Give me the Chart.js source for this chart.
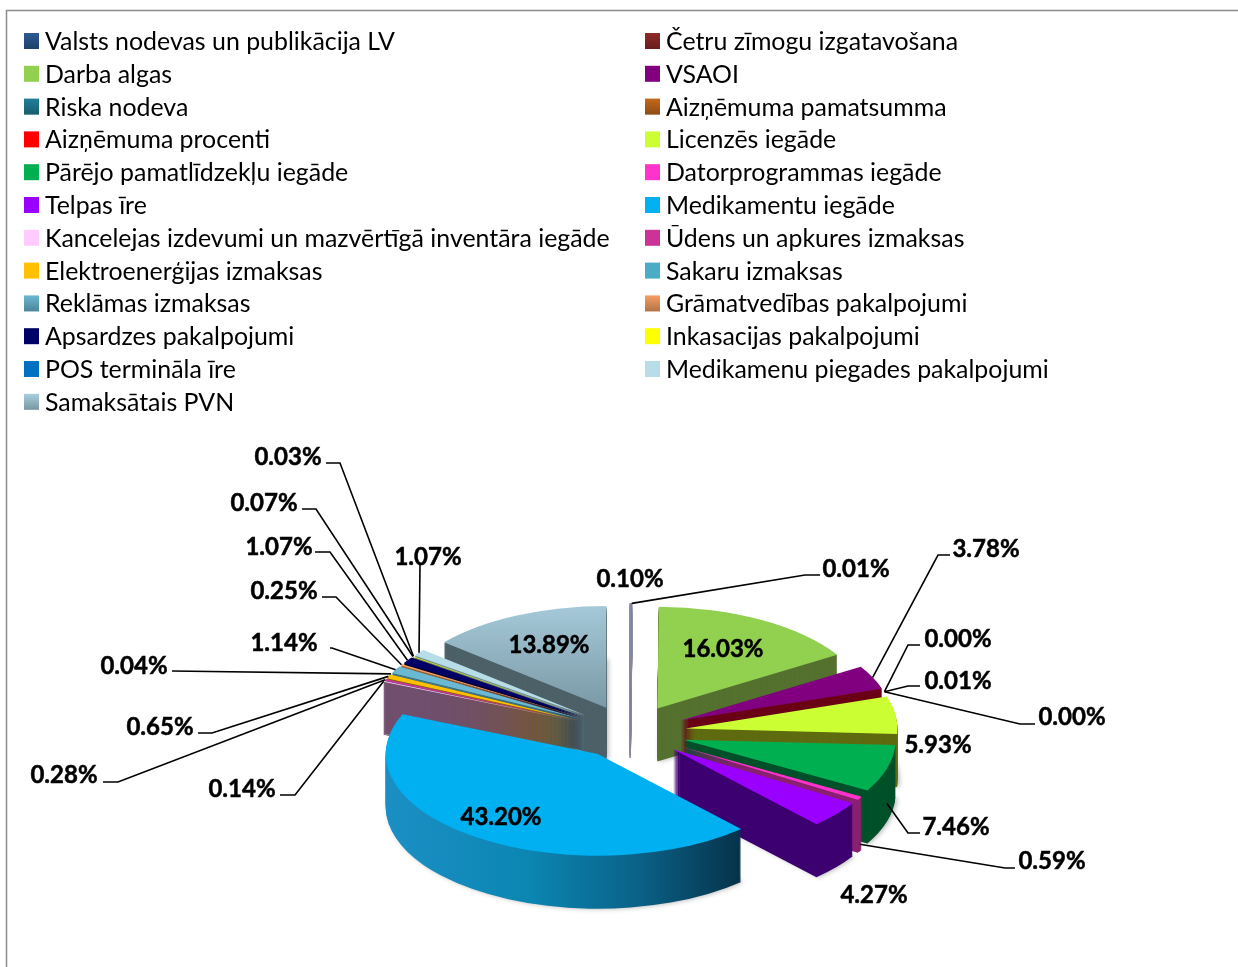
<!DOCTYPE html>
<html>
<head>
<meta charset="utf-8">
<script src="https://cdn.jsdelivr.net/npm/chart.js@4"></script>
<style>
  html, body { margin: 0; padding: 0; background: #fff; overflow: hidden; }
  canvas { display: block; }
</style>
</head>
<body>
<canvas id="pieChart" width="1238" height="967"></canvas>
<script>
const categories = [
  'Valsts nodevas un publikācija LV', 'Četru zīmogu izgatavošana',
  'Darba algas', 'VSAOI',
  'Riska nodeva', 'Aizņēmuma pamatsumma',
  'Aizņēmuma procenti', 'Licenzēs iegāde',
  'Pārējo pamatlīdzekļu iegāde', 'Datorprogrammas iegāde',
  'Telpas īre', 'Medikamentu iegāde',
  'Kancelejas izdevumi un mazvērtīgā inventāra iegāde', 'Ūdens un apkures izmaksas',
  'Elektroenerģijas izmaksas', 'Sakaru izmaksas',
  'Reklāmas izmaksas', 'Grāmatvedības pakalpojumi',
  'Apsardzes pakalpojumi', 'Inkasacijas pakalpojumi',
  'POS termināla īre', 'Medikamenu piegades pakalpojumi',
  'Samaksātais PVN'
];
const shares = [0.10, 0.01, 16.03, 3.78, 0.00, 0.01, 0.00, 5.93, 7.46, 0.59, 4.27, 43.20,
  0.14, 0.28, 0.65, 0.04, 1.14, 0.25, 1.07, 0.07, 0.03, 1.07, 13.89];

const topColors = ['#2c5a94', '#8f2a28', '#92d050', '#800080', '#217f99', '#c4691c', '#ff0000', '#ccff33',
  '#00b050', '#ff33cc', '#9900ff', '#00b0f0', '#ffccff', '#cc3399', '#ffc000', '#4bacc6',
  '#6bb8d2', '#f79f63', '#000066', '#ffff00', '#0070c0', '#b7dde8', '#a9cfe0'];
const wallColors = ['#8a8ca4', '#8a8ca4', '#55712f', '#6a0016', '#155060', '#7a4010', '#7a0000', '#5f6b10',
  '#00502a', '#8b2070', '#3d0070', '#0b6d96', '#70506e', '#70506e', '#806000', '#2a6a7a',
  '#3a6a7a', '#905f30', '#000033', '#707000', '#004070', '#6f8c94', '#4d6168'];
const shadedSwatches = [0, 1, 4, 5, 16, 17, 22];

// where the percentages sit, null elbow = no leader line
const labelX = [630, 856, 723, 986, 958, 958, 1072, 938, 956, 1052, 874, 501, 242, 64, 160, 134, 284, 284, 279, 264, 288, 428, 549];
const labelY = [579, 569, 649, 549, 639, 681, 717, 745, 827, 861, 895, 817, 789, 775, 727, 666, 643, 591, 547, 503, 457, 557, 645];
const elbowX = [null, 805, null, 938, 908, 908, 1020, null, 908, 1005, null, null, 295, 118, 212, 172, 332, 336, 330, 316, 340, 420, null];
const elbowY = [null, 575, null, 555, 645, 686, 724, null, 833, 868, null, null, 795, 782, 733, 671, 648, 597, 552, 509, 463, 565, null];
const lineEndX = [null, 820, null, 950, 920, 920, 1035, null, 920, 1015, null, null, 280, 103, 198, 172, 330, 322, 315, 302, 326, 420, null];
// leaders of the front slices start down on the wall, not on the top face
const leaderDrop = [0, 0, 0, 0, 0, 0, 0, 0, 35, 46, 0, 0, 0, 0, 0, 0, 0, 0, 0, 0, 0, 0, 0];

const SQUASH = 0.48;
const DEPTH = 53;
const LABEL_FONT = 'bold 24px Lato';
const LEGEND_FONT = '24.9px Lato';

function slicePath(ctx, arc) {
  const p = arc.getProps(['x', 'y', 'startAngle', 'endAngle', 'outerRadius'], true);
  const mid = (p.startAngle + p.endAngle) / 2;
  const ox = Math.cos(mid) * arc.options.offset;
  const oy = Math.sin(mid) * arc.options.offset;
  ctx.beginPath();
  ctx.moveTo(p.x + ox, p.y + oy);
  ctx.arc(p.x + ox, p.y + oy, p.outerRadius, p.startAngle, p.endAngle);
  ctx.closePath();
}

function rimPoint(arc) {
  const p = arc.getProps(['x', 'y', 'startAngle', 'endAngle', 'outerRadius'], true);
  const mid = (p.startAngle + p.endAngle) / 2;
  const r = p.outerRadius + arc.options.offset;
  return { x: p.x + Math.cos(mid) * r, y: p.y + Math.sin(mid) * r * SQUASH };
}

const framePlugin = {
  id: 'frame',
  beforeDraw(chart) {
    const ctx = chart.ctx;
    ctx.save();
    ctx.fillStyle = '#fff';
    ctx.fillRect(0, 0, chart.width, chart.height);
    ctx.strokeStyle = '#8c8c8c';
    ctx.lineWidth = 1.5;
    ctx.beginPath();
    ctx.moveTo(6.5, chart.height);
    ctx.lineTo(6.5, 10.5);
    ctx.lineTo(chart.width, 10.5);
    ctx.stroke();
    ctx.restore();
  }
};

// tilted pie: every slice is a squashed stack, back slices first
const tiltPlugin = {
  id: 'tilt',
  beforeDatasetDraw(chart, args) {
    const ctx = chart.ctx;
    const arcs = args.meta.data.map((arc, i) => ({ arc, i }));
    arcs.sort((a, b) => {
      const ma = (a.arc.startAngle + a.arc.endAngle) / 2;
      const mb = (b.arc.startAngle + b.arc.endAngle) / 2;
      return Math.sin(ma) - Math.sin(mb);
    });
    const cy = arcs[0].arc.y;
    arcs.forEach(({ arc, i }) => {
      let wall = wallColors[i];
      let top = topColors[i];
      if (i === 11) {
        wall = ctx.createLinearGradient(385, 0, 745, 0);
        wall.addColorStop(0, '#1b8fc4');
        wall.addColorStop(0.4, '#0b86b2');
        wall.addColorStop(0.7, '#0a6288');
        wall.addColorStop(1, '#063048');
      }
      if (i === 22) {
        top = ctx.createLinearGradient(0, cy - 320, 0, cy - 60);
        top.addColorStop(0, '#b0d6e6');
        top.addColorStop(1, '#7d9ba8');
      }
      for (let k = DEPTH; k >= 0; k--) {
        ctx.save();
        // soft shadow only under the big slices, the tiny ones just smear
        if (k === DEPTH && arc.endAngle - arc.startAngle > 0.2) {
          ctx.shadowColor = 'rgba(0,0,0,0.3)';
          ctx.shadowBlur = 5;
          ctx.shadowOffsetX = 2;
        }
        ctx.translate(0, cy + k);
        ctx.scale(1, SQUASH);
        ctx.translate(0, -cy);
        // the thin first slice reads as a grey sliver all the way up
        ctx.fillStyle = (k === 0 && i !== 0) ? top : wall;
        slicePath(ctx, arc);
        ctx.fill();
        if (i === 0) {
          ctx.strokeStyle = wall;
          ctx.lineWidth = 1.5;
          ctx.stroke();
        }
        ctx.restore();
      }
    });
    return false;
  },
  afterDatasetsDraw(chart) {
    const ctx = chart.ctx;
    const arcs = chart.getDatasetMeta(0).data;
    ctx.save();
    ctx.strokeStyle = '#000';
    ctx.lineWidth = 1.6;
    arcs.forEach((arc, i) => {
      if (elbowX[i] === null) return;
      const from = rimPoint(arc);
      ctx.beginPath();
      ctx.moveTo(from.x, from.y + leaderDrop[i]);
      ctx.lineTo(elbowX[i], elbowY[i]);
      ctx.lineTo(lineEndX[i], elbowY[i]);
      ctx.stroke();
    });
    ctx.font = LABEL_FONT;
    ctx.fillStyle = '#000';
    ctx.textAlign = 'center';
    ctx.textBaseline = 'middle';
    ctx.lineWidth = 0.5;
    shares.forEach((v, i) => {
      const txt = v.toFixed(2) + '%';
      ctx.fillText(txt, labelX[i], labelY[i]);
      ctx.strokeText(txt, labelX[i], labelY[i]);
    });
    ctx.restore();
  }
};

// two column legend, row by row like the original
const legendPlugin = {
  id: 'twoColLegend',
  afterDraw(chart) {
    const ctx = chart.ctx;
    ctx.save();
    ctx.font = LEGEND_FONT;
    ctx.textBaseline = 'middle';
    ctx.textAlign = 'left';
    categories.forEach((name, i) => {
      const col = i % 2;
      const row = Math.floor(i / 2);
      const x = col === 0 ? 24 : 645;
      const y = 41 + row * 32.8;
      ctx.fillStyle = topColors[i];
      ctx.fillRect(x, y - 8, 15, 16);
      if (shadedSwatches.includes(i)) {
        const shade = ctx.createLinearGradient(0, y - 8, 0, y + 8);
        shade.addColorStop(0, 'rgba(0,0,0,0)');
        shade.addColorStop(1, 'rgba(0,0,0,0.28)');
        ctx.fillStyle = shade;
        ctx.fillRect(x, y - 8, 15, 16);
      }
      ctx.fillStyle = '#000';
      ctx.fillText(name, x + 21, y + 1);
    });
    ctx.restore();
  }
};

new Chart(document.getElementById('pieChart').getContext('2d'), {
  type: 'pie',
  data: {
    labels: categories,
    datasets: [{
      data: shares,
      backgroundColor: topColors,
      borderWidth: 0,
      offset: 56
    }]
  },
  options: {
    responsive: false,
    animation: false,
    radius: 212,
    layout: { padding: { left: 22, top: 497 } },
    plugins: {
      legend: { display: false },
      tooltip: { enabled: false }
    }
  },
  plugins: [framePlugin, tiltPlugin, legendPlugin]
});
</script>
</body>
</html>
